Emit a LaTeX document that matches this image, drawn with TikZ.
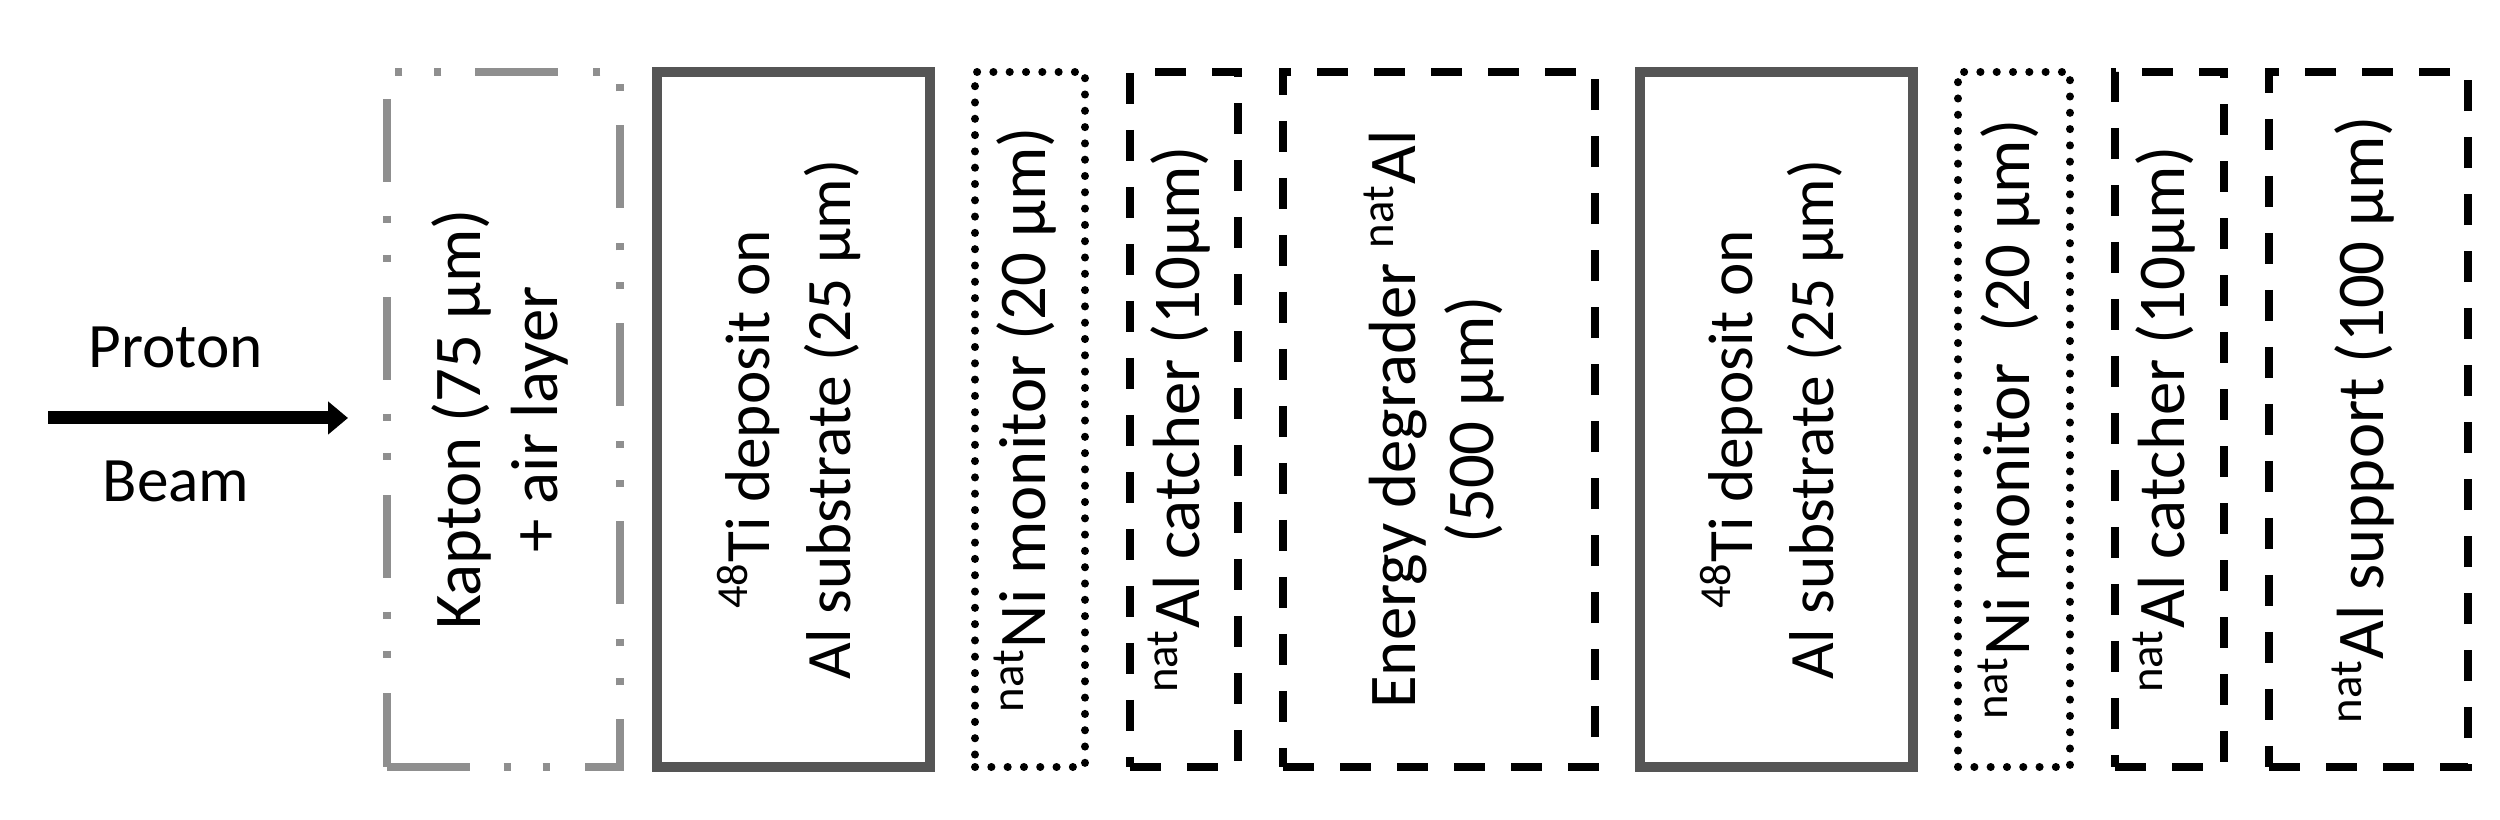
\documentclass[tikz,border=0pt]{standalone}
\usepackage{fontspec}
\setmainfont{Carlito}
\usetikzlibrary{positioning,arrows.meta}

\definecolor{framegray}{RGB}{85,85,85}
\definecolor{kaptongray}{RGB}{143,143,143}

\newcommand{\vlabel}[1]{\rotatebox{90}{\begin{tabular}{@{}c@{}}#1\end{tabular}}}
\newcommand{\nat}{\textsuperscript{nat}}

\begin{document}
\begin{tikzpicture}[node distance=0.45cm,
    every node/.style={outer sep=0pt, inner sep=0pt, font=\fontsize{18}{23}\selectfont},
    layer/.style={minimum height=6.95cm, font=\fontsize{19}{22}\selectfont},
    kaptonbox/.style={layer, draw=kaptongray, line width=0.08cm,
        dash pattern=on 0.83cm off 0.335cm on 0.07cm off 0.32cm on 0.07cm off 0.355cm},
    solidbox/.style={layer, draw=framegray, line width=0.1cm, font=\fontsize{18}{23}\selectfont},
    dotbox/.style={layer, draw=black, line width=0.08cm, line cap=round,
        dash pattern=on 0.001cm off 0.162cm},
    dashbox/.style={layer, draw=black, line width=0.08cm, dash pattern=on 0.31cm off 0.26cm} ]
    \useasboundingbox (0,0) rectangle (25,8.2);

    % beam
    \coordinate (beamstart) at (0.48,4.02);
    \coordinate (beamend) at (3.48,4.02);
    \draw[line width=0.13cm, -{Triangle[length=0.2cm,width=0.32cm]}] (beamstart) -- (beamend);
    \node[anchor=base] (proton) at (1.76,4.52) {Proton};
    \node[anchor=base] (beam) at (1.76,3.18) {Beam};

    % target stack
    \node[kaptonbox, minimum width=2.33cm] (kapton) at (5.035,4.005)
        {\vlabel{Kapton (75 µm)\\+ air layer}};
    \node[solidbox, minimum width=2.73cm, right=0.37cm of kapton] (tione)
        {\vlabel{\textsuperscript{48}Ti deposit on\\Al substrate (25 µm)}};
    \node[dotbox, minimum width=1.10cm, right=of tione] (nione)
        {\vlabel{\nat Ni monitor (20 µm)}};
    \node[dashbox, minimum width=1.08cm, right=of nione] (alone)
        {\vlabel{\nat Al catcher (10µm)}};
    \node[dashbox, minimum width=3.12cm, right=of alone] (degrader)
        {\vlabel{Energy degrader \nat Al\\(500 µm)}};
    \node[solidbox, minimum width=2.73cm, right=of degrader] (titwo)
        {\vlabel{\textsuperscript{48}Ti deposit on\\Al substrate (25 µm)}};
    \node[dotbox, minimum width=1.12cm, right=of titwo] (nitwo)
        {\vlabel{\nat Ni monitor~ (20 µm)}};
    \node[dashbox, minimum width=1.09cm, right=of nitwo] (altwo)
        {\vlabel{\nat Al catcher (10µm)}};
    \node[dashbox, minimum width=1.99cm, right=of altwo] (support)
        {\vlabel{\nat Al support (100 µm)}};

\end{tikzpicture}
\end{document}
